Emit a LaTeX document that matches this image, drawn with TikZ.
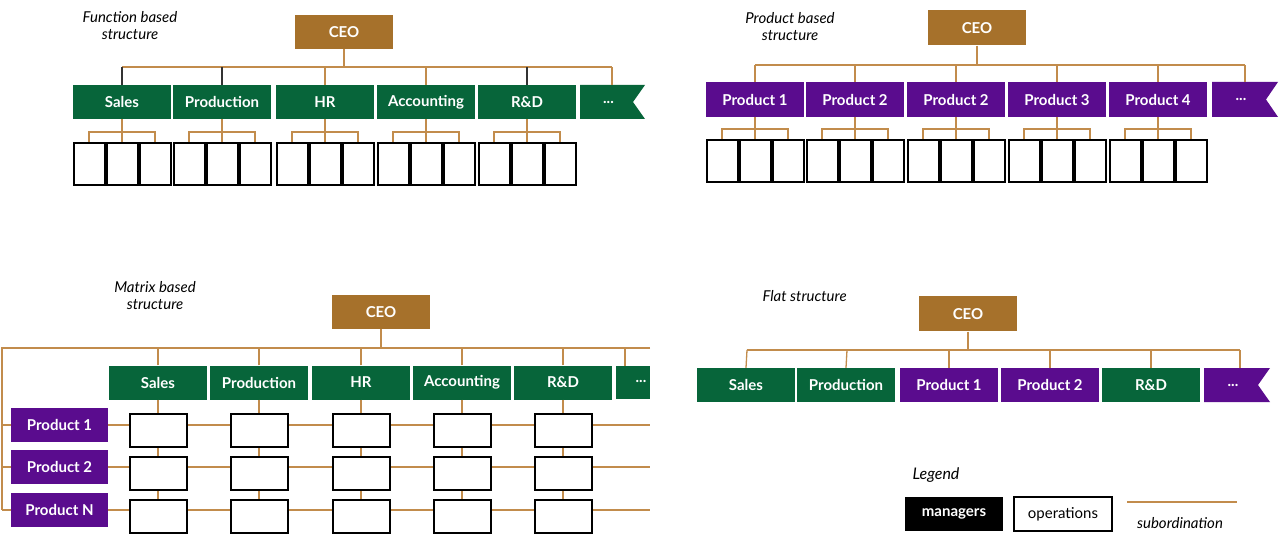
\documentclass[tikz,border=0pt]{standalone}
\usepackage{fontspec}
\setmainfont{Lato}
\begin{document}
\begin{tikzpicture}[x=1pt,y=-1pt,
  mgr/.style={inner sep=0pt,text=white,font=\bfseries\fontsize{15}{15}\selectfont},
  grn/.style={mgr,fill=fgreen},
  prp/.style={mgr,fill=fpurple},
  ceo/.style={mgr,fill=fbrown,minimum width=98pt,minimum height=34pt},
  ops/.style={draw=black,fill=white,line width=2pt,inner sep=0pt},
  sub/.style={draw=lbrown,line width=1.3pt},
  dk/.style={draw=black!80,line width=1.3pt},
  ttl/.style={font=\itshape\fontsize{15}{17}\selectfont,align=center}]
\definecolor{fgreen}{HTML}{07653A}
\definecolor{fpurple}{HTML}{5A0C8E}
\definecolor{fbrown}{HTML}{A6712B}
\definecolor{lbrown}{HTML}{C28C4C}
\useasboundingbox (0,0) rectangle (1280,545);
\newcommand\bx[7]{\node[#6,minimum width=#4pt,minimum height=#5pt] (#1) at (#2,#3) {#7};}
\newcommand\flag[6]{% name, x1, x2, y1, y2, color
  \fill[#6] (#2,#4) -- (#3,#4) -- (#3-12,{(#4+#5)/2}) -- (#3,#5) -- (#2,#5) -- cycle;
  \node[mgr] (#1) at ({(#2+#3)/2-4},{(#4+#5)/2}) {...};}
% ================= Function based
\node[ttl] (t1) at (130,26) {Function based\\structure};
\bx{c1}{344}{32}{98}{34}{ceo}{CEO}
\coordinate (b1) at (344,67);
\draw[sub] (c1.south) -- (b1);
\draw[sub] (122,67) -- (612,67);
\foreach \n/\c/\t in {s/122/Sales,p/222/Production,h/325/HR,a/426/Accounting,r/527/R\&D}{
  \bx{f\n}{\c}{102}{98}{34}{grn}{\t}
}
\flag{fe}{580}{645}{85}{119}{fgreen}
\draw[dk] (fs.north) -- (122,67);
\draw[dk] (fp.north) -- (222,67);
\draw[sub] (fh.north) -- (325,67);
\draw[sub] (fa.north) -- (426,67);
\draw[dk] (fr.north) -- (527,67);
\draw[sub] (612,85) -- (612,67);
\foreach \n/\c in {s/122,p/222,h/325,a/426,r/527}{
  \bx{f\n1}{\c-33}{164}{31}{42}{ops}{}
  \bx{f\n2}{\c}{164}{31}{42}{ops}{}
  \bx{f\n3}{\c+33}{164}{31}{42}{ops}{}
  \draw[sub] (f\n.south) -- (\c,132);
  \draw[sub] (f\n1.north) |- (\c,132) -| (f\n3.north);
  \draw[sub] (\c,132) -- (f\n2.north);
}
% ================= Product based
\node[ttl] (t2) at (790,27) {Product based\\structure};
\bx{c2}{977}{28}{98}{35}{ceo}{CEO}
\draw[sub] (c2.south) -- (977,65);
\draw[sub] (755,65) -- (1245,65);
\foreach \n/\c/\t in {a/755/Product 1,b/855/Product 2,c/956/Product 2,d/1057/Product 3,e/1158/Product 4}{
  \bx{g\n}{\c}{99.5}{98}{35}{prp}{\t}
  \draw[sub] (g\n.north) -- (\c,65);
  \bx{g\n1}{\c-33}{161}{31}{42}{ops}{}
  \bx{g\n2}{\c}{161}{31}{42}{ops}{}
  \bx{g\n3}{\c+33}{161}{31}{42}{ops}{}
  \draw[sub] (g\n.south) -- (\c,129);
  \draw[sub] (g\n1.north) |- (\c,129) -| (g\n3.north);
  \draw[sub] (\c,129) -- (g\n2.north);
}
\flag{ge}{1212}{1278}{82}{117}{fpurple}
\draw[sub] (1245,82) -- (1245,65);
% ================= Matrix
\node[ttl] (t3) at (155,296) {Matrix based\\structure};
\bx{c3}{381}{312}{98}{34}{ceo}{CEO}
\draw[sub] (c3.south) -- (381,348);
\draw[sub] (650,348) -- (2,348) -- (2,510);
\foreach \y in {425,467,510}{\draw[sub] (2,\y) -- (650,\y);}
\foreach \n/\y/\t in {1/424.5/Product 1,2/467/Product 2,3/510/Product N}{
  \bx{mp\n}{59.5}{\y}{97}{34}{prp}{\t}
}
\fill[fgreen] (616,366) rectangle (650,399);
\node[mgr] (me) at (641,381) {...};
\draw[sub] (625,348) -- (625,366);
\foreach \n/\c/\t in {s/158/Sales,p/259/Production,h/361/HR,a/462/Accounting,r/563/R\&D}{
  \bx{m\n}{\c}{382.5}{98}{34}{grn}{\t}
  \draw[sub] (m\n.north) -- (\c,348);
  \draw[sub] (m\n.south) -- (\c,516);
  \bx{m\n1}{\c}{430}{57}{33}{ops}{}
  \bx{m\n2}{\c}{473}{57}{33}{ops}{}
  \bx{m\n3}{\c}{516}{57}{33}{ops}{}
}
% ================= Flat
\node[ttl,anchor=west] (t4) at (759,296) {Flat structure};
\bx{c4}{968}{314}{98}{35}{ceo}{CEO}
\draw[sub] (c4.south) -- (968,350);
\draw[sub] (747,350) -- (1240,350);
\bx{ls}{746}{385}{98}{34}{grn}{Sales}
\bx{lp}{846}{385}{98}{34}{grn}{Production}
\bx{l1}{949}{385}{98}{34}{prp}{Product 1}
\bx{l2}{1050}{385}{98}{34}{prp}{Product 2}
\bx{lr}{1151}{385}{98}{34}{grn}{R\&D}
\flag{le}{1204}{1270}{368}{402}{fpurple}
\foreach \n/\c in {ls/747,lp/847,l1/949,l2/1050,lr/1151}{\draw[sub] (\n.north) -- (\c,350);}
\draw[sub] (1240,368) -- (1240,350);
% ================= Legend
\node[font=\itshape\fontsize{16}{16}\selectfont] (lg) at (936,475) {Legend};
\bx{lm}{954}{514}{98}{34}{mgr,fill=black}{managers}
\node[draw=black,line width=2pt,minimum width=98pt,minimum height=34pt,inner sep=0pt,font=\fontsize{15}{15}\selectfont] (lo) at (1063,514) {operations};
\coordinate (sa) at (1127,502);
\coordinate (sb) at (1237,502);
\draw[sub] (sa) -- (sb);
\node[font=\itshape\fontsize{15}{15}\selectfont] (lsub) at (1180,523) {subordination};
\end{tikzpicture}
\end{document}
